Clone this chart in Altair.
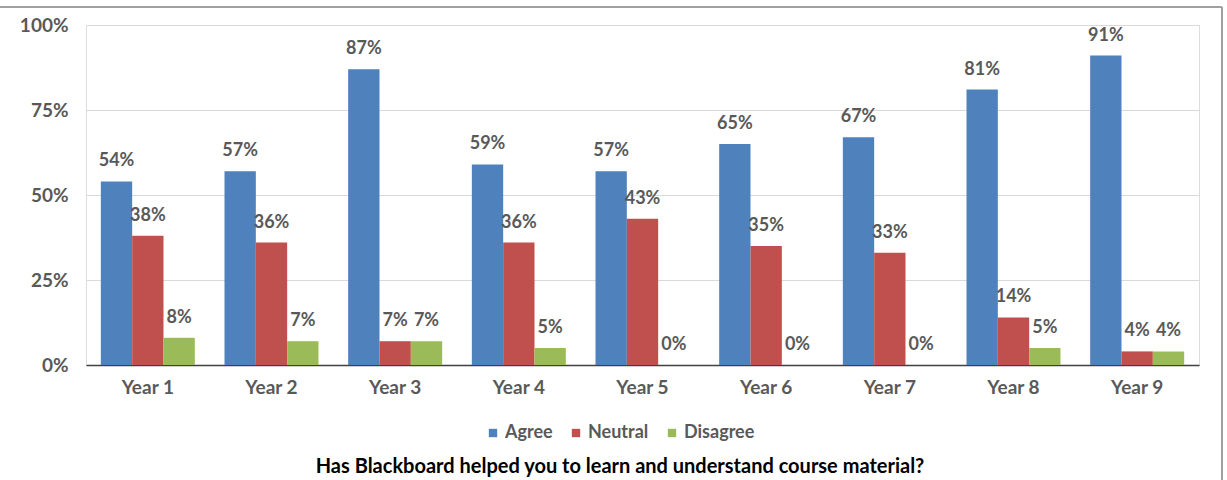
import altair as alt
import pandas as pd

years = ["Year 1", "Year 2", "Year 3", "Year 4", "Year 5", "Year 6", "Year 7", "Year 8", "Year 9"]
agree = [54, 57, 87, 59, 57, 65, 67, 81, 91]
neutral = [38, 36, 7, 36, 43, 35, 33, 14, 4]
disagree = [8, 7, 7, 5, 0, 0, 0, 5, 4]
responses = ["Agree", "Neutral", "Disagree"]
colors = ["#4F81BD", "#C0504D", "#9BBB59"]
y_ticks = [0, 25, 50, 75, 100]
title_text = "Has Blackboard helped you to learn and understand course material?"

rows = []
for i, y in enumerate(years):
    for r, vals in zip(responses, [agree, neutral, disagree]):
        rows.append({"Year": y, "Response": r, "value": vals[i], "label": f"{vals[i]}%"})
df = pd.DataFrame(rows)

FONT = "Lato"
GRAY = "#595959"

x = alt.X("Year:N", sort=years, title=None,
          scale=alt.Scale(paddingInner=0.24, paddingOuter=0.12),
          axis=alt.Axis(labelAngle=0, ticks=False, domainColor="#404040", domainWidth=1.5,
                        labelFont=FONT, labelFontSize=19, labelFontWeight="bold",
                        labelColor=GRAY, labelPadding=13))
xoff = alt.XOffset("Response:N", sort=responses)

bars = alt.Chart(df).mark_bar().encode(
    x=x,
    xOffset=xoff,
    y=alt.Y("value:Q", title=None, scale=alt.Scale(domain=[0, 100]),
            axis=alt.Axis(values=y_ticks, labelExpr="datum.value + '%'", ticks=False, domain=False,
                          gridColor="#d9d9d9", gridWidth=1.2,
                          labelFont=FONT, labelFontSize=19, labelFontWeight="bold",
                          labelColor=GRAY, labelPadding=18)),
    color=alt.Color("Response:N", sort=responses,
                    scale=alt.Scale(domain=responses, range=colors),
                    legend=alt.Legend(title=None, orient="none", direction="horizontal",
                                      legendX=398, legendY=399, symbolType="square",
                                      symbolSize=70, symbolStrokeWidth=0,
                                      labelFont=FONT, labelFontSize=18, labelFontWeight="bold",
                                      labelColor=GRAY, columnPadding=14, symbolOffset=0,
                                      labelOffset=3)),
)

labels = alt.Chart(df).mark_text(baseline="alphabetic", dy=-15, font=FONT, fontSize=18,
                                 fontWeight="bold", color=GRAY).encode(
    x=alt.X("Year:N", sort=years),
    xOffset=xoff,
    y="value:Q",
    text="label:N",
)

title_layer = alt.Chart(pd.DataFrame({"t": [title_text]})).mark_text(
    font=FONT, fontSize=20, fontWeight="bold", color="#000000", baseline="middle",
    align="center", clip=False).encode(
    x=alt.value(534), y=alt.value(442), text="t:N")

frame_top = alt.Chart(pd.DataFrame({"k": [0]})).mark_rule(color="#a0a0a0", strokeWidth=2, clip=False).encode(
    x=alt.value(-86), x2=alt.value(1136), y=alt.value(-18))
frame_right = alt.Chart(pd.DataFrame({"k": [0]})).mark_rule(color="#a0a0a0", strokeWidth=2, clip=False).encode(
    x=alt.value(1136), y=alt.value(-18), y2=alt.value(460))

chart = alt.layer(bars, labels, title_layer, frame_top, frame_right).properties(
    width=1113, height=340,
    padding={"left": 86, "top": 25, "right": 28, "bottom": 115},
    autosize=alt.AutoSizeParams(type="none"),
).configure_view(stroke="#404040", strokeWidth=1.5).configure(background="white")

chart.save("out.html", embed_options={"renderer": "svg", "actions": False})
